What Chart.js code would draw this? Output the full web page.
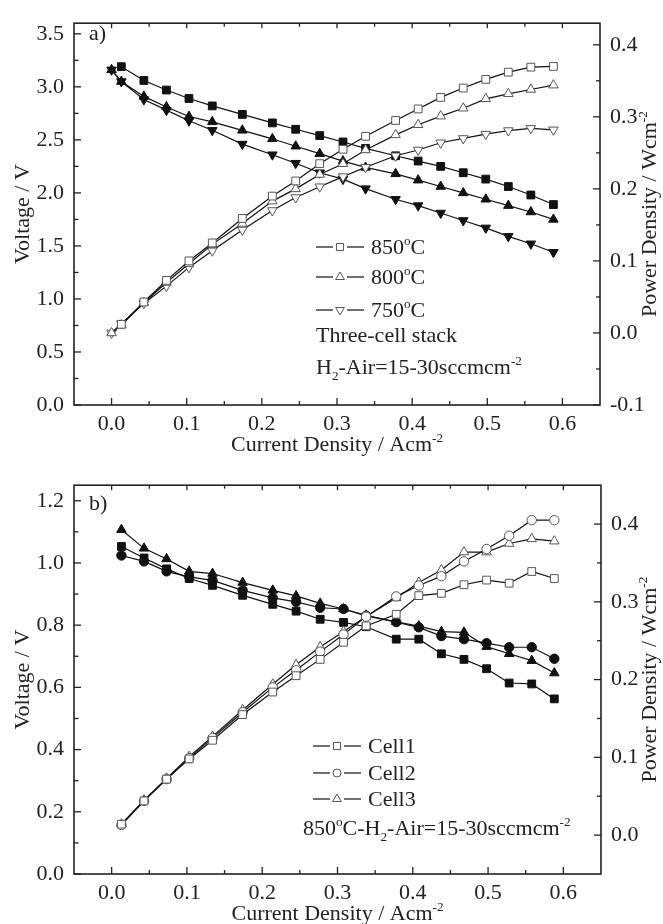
<!DOCTYPE html>
<html>
<head>
<meta charset="utf-8">
<script src="https://cdn.jsdelivr.net/npm/chart.js@4.4.1/dist/chart.umd.min.js"></script>
<style>
  html, body { margin: 0; padding: 0; background: #fff; }
  canvas { display: block; }
</style>
</head>
<body>
<canvas id="chartA" width="663" height="462"></canvas>
<canvas id="chartB" width="663" height="462"></canvas>
<script>
// ---- panel a) three-cell stack ----
const xA = [0, 0.013, 0.043, 0.073, 0.103, 0.134, 0.174, 0.214, 0.245, 0.277, 0.308, 0.338, 0.378, 0.408, 0.438, 0.468, 0.498, 0.528, 0.558, 0.588];
const v850 = [null, 3.19, 3.06, 2.97, 2.89, 2.82, 2.74, 2.66, 2.60, 2.54, 2.48, 2.42, 2.35, 2.30, 2.25, 2.19, 2.13, 2.06, 1.98, 1.89];
const v800 = [3.16, 3.05, 2.91, 2.81, 2.72, 2.67, 2.59, 2.51, 2.44, 2.37, 2.30, 2.24, 2.18, 2.12, 2.06, 2.00, 1.94, 1.88, 1.82, 1.75];
const v750 = [3.16, 3.05, 2.88, 2.78, 2.68, 2.59, 2.46, 2.36, 2.28, 2.19, 2.13, 2.04, 1.94, 1.88, 1.81, 1.74, 1.67, 1.59, 1.52, 1.44];
const p850 = [null, 0.012, 0.043, 0.073, 0.100, 0.125, 0.159, 0.190, 0.211, 0.235, 0.255, 0.273, 0.295, 0.311, 0.327, 0.340, 0.352, 0.362, 0.369, 0.370];
const p800 = [0.0, 0.011, 0.042, 0.070, 0.096, 0.123, 0.152, 0.183, 0.200, 0.220, 0.235, 0.254, 0.275, 0.289, 0.301, 0.312, 0.325, 0.332, 0.338, 0.344];
const p750 = [0.0, 0.013, 0.041, 0.065, 0.091, 0.114, 0.143, 0.170, 0.188, 0.203, 0.217, 0.230, 0.246, 0.254, 0.264, 0.270, 0.276, 0.281, 0.284, 0.282];

// ---- panel b) single cells at 850 C ----
const xB = [0.013, 0.043, 0.073, 0.103, 0.134, 0.174, 0.214, 0.245, 0.277, 0.308, 0.338, 0.378, 0.408, 0.438, 0.468, 0.498, 0.528, 0.558, 0.588];
const vCell1 = [1.053, 1.016, 0.981, 0.950, 0.928, 0.896, 0.867, 0.845, 0.819, 0.809, 0.795, 0.755, 0.755, 0.708, 0.690, 0.660, 0.614, 0.611, 0.563];
const vCell2 = [1.024, 1.005, 0.973, 0.955, 0.944, 0.912, 0.888, 0.875, 0.856, 0.852, 0.830, 0.810, 0.793, 0.765, 0.755, 0.742, 0.729, 0.729, 0.692];
const vCell3 = [1.107, 1.047, 1.013, 0.973, 0.966, 0.937, 0.912, 0.894, 0.870, 0.852, 0.832, 0.811, 0.797, 0.779, 0.777, 0.731, 0.708, 0.686, 0.646];
const pCell1 = [0.014, 0.044, 0.072, 0.098, 0.122, 0.155, 0.184, 0.205, 0.226, 0.248, 0.269, 0.284, 0.308, 0.311, 0.322, 0.328, 0.324, 0.339, 0.330];
const pCell2 = [0.013, 0.044, 0.072, 0.099, 0.125, 0.158, 0.190, 0.212, 0.236, 0.258, 0.281, 0.307, 0.321, 0.333, 0.352, 0.368, 0.385, 0.405, 0.405];
const pCell3 = [0.014, 0.045, 0.073, 0.101, 0.127, 0.161, 0.194, 0.219, 0.242, 0.262, 0.281, 0.305, 0.325, 0.341, 0.364, 0.364, 0.375, 0.381, 0.378];

// tick labels
const xTicks = [0, 0.1, 0.2, 0.3, 0.4, 0.5, 0.6];
const vTicksA = [0, 0.5, 1.0, 1.5, 2.0, 2.5, 3.0, 3.5];
const pTicksA = [-0.1, 0, 0.1, 0.2, 0.3, 0.4];
const vTicksB = [0, 0.2, 0.4, 0.6, 0.8, 1.0, 1.2];
const pTicksB = [0, 0.1, 0.2, 0.3, 0.4];

const FONT = '"Liberation Serif", "Times New Roman", serif';
const INK = '#222';

function pts(xs, ys) {
  return xs.map((x, i) => ({ x: x, y: ys[i] })).filter(p => p.y !== null);
}

function minors(ticks, min, max) {
  const step = ticks[1] - ticks[0], out = [];
  for (let v = ticks[0] - step / 2; v < max; v += step) {
    if (v > min + 1e-9 && v < max - 1e-9) out.push(v);
  }
  return out;
}

// text with ^sup and _sub parts
function rich(ctx, parts, x, y, size, align) {
  const segs = parts.map(p => {
    let mode = 0, t = p;
    if (p[0] === '^') { mode = 1; t = p.slice(1); }
    else if (p[0] === '_') { mode = -1; t = p.slice(1); }
    const s = mode ? size * 0.6 : size;
    ctx.font = s + 'px ' + FONT;
    return { t: t, mode: mode, s: s, w: ctx.measureText(t).width };
  });
  const total = segs.reduce((a, s) => a + s.w, 0);
  let cx = align === 'center' ? x - total / 2 : x;
  const base = y + size * 0.33;
  ctx.textAlign = 'left';
  ctx.textBaseline = 'alphabetic';
  segs.forEach(s => {
    ctx.font = s.s + 'px ' + FONT;
    const dy = s.mode === 1 ? -size * 0.42 : (s.mode === -1 ? size * 0.28 : 0);
    ctx.fillText(s.t, cx, base + dy);
    cx += s.w;
  });
}

function series(xs, ys, axis, style, filled, rot) {
  const r = style === 'circle' ? 4.7 : 5.5;
  return {
    data: pts(xs, ys),
    yAxisID: axis,
    showLine: true,
    tension: 0,
    borderColor: '#111',
    borderWidth: 1.2,
    pointStyle: style,
    rotation: rot || 0,
    pointRadius: r,
    pointHoverRadius: r,
    pointBackgroundColor: filled ? '#111' : '#fff',
    pointBorderColor: filled ? '#111' : '#555',
    pointBorderWidth: 1
  };
}

function decor(spec) {
  return {
    id: 'decor',
    afterDraw(chart) {
      const ctx = chart.ctx, a = chart.chartArea;
      const X = chart.scales.x, Y = chart.scales.y, Y1 = chart.scales.y1;
      ctx.save();
      ctx.strokeStyle = INK;
      ctx.lineWidth = 1.6;
      ctx.strokeRect(a.left, a.top, a.right - a.left, a.bottom - a.top);
      ctx.lineWidth = 1.3;
      const seg = (x1, y1, x2, y2) => { ctx.beginPath(); ctx.moveTo(x1, y1); ctx.lineTo(x2, y2); ctx.stroke(); };
      xTicks.forEach(v => { const p = X.getPixelForValue(v); seg(p, a.bottom, p, a.bottom - 7); seg(p, a.top, p, a.top + 5); });
      minors(xTicks, X.min, X.max).forEach(v => { const p = X.getPixelForValue(v); seg(p, a.bottom, p, a.bottom - 4); seg(p, a.top, p, a.top + 3.5); });
      spec.vTicks.forEach(v => { const p = Y.getPixelForValue(v); seg(a.left, p, a.left + 7, p); });
      minors(spec.vTicks, Y.min, Y.max).forEach(v => { const p = Y.getPixelForValue(v); seg(a.left, p, a.left + 4.5, p); });
      spec.pTicks.forEach(v => { const p = Y1.getPixelForValue(v); seg(a.right, p, a.right - 7, p); });
      minors(spec.pTicks, Y1.min, Y1.max).forEach(v => { const p = Y1.getPixelForValue(v); seg(a.right, p, a.right - 4, p); });

      ctx.fillStyle = INK;
      const midY = (a.top + a.bottom) / 2;
      // axis titles
      rich(ctx, ['Current Density / Acm', '^-2'], (a.left + a.right) / 2, spec.xTitleY, 22, 'center');
      ctx.save();
      ctx.translate(22, midY);
      ctx.rotate(-Math.PI / 2);
      rich(ctx, ['Voltage / V'], 0, 0, 22, 'center');
      ctx.restore();
      ctx.save();
      ctx.translate(649, midY);
      ctx.rotate(-Math.PI / 2);
      rich(ctx, ['Power Density / Wcm', '^-2'], 0, 0, 22, 'center');
      ctx.restore();

      // panel label
      rich(ctx, [spec.panel], 89, spec.panelY, 22, 'left');

      // legend rows
      spec.legend.forEach(row => {
        ctx.strokeStyle = '#111';
        ctx.lineWidth = 1.2;
        seg(spec.lx, row.y, spec.lx + 17, row.y);
        seg(spec.lx + 31, row.y, spec.lx + 48, row.y);
        ctx.fillStyle = '#fff';
        ctx.strokeStyle = '#555';
        ctx.lineWidth = 1;
        Chart.helpers.drawPoint(ctx, { pointStyle: row.style, radius: row.style === 'circle' ? 4 : 5, rotation: row.rot || 0, borderWidth: 1 }, spec.lx + 24, row.y);
        ctx.fillStyle = INK;
        rich(ctx, row.text, spec.lx + 55, row.y, 22, 'left');
      });
      spec.notes.forEach(n => rich(ctx, n.text, n.x, n.y, 22, 'left'));
      ctx.restore();
    }
  };
}

function axes(vMin, vMax, pMin, pMax, vTicks, pTicks, rightW, bottomH) {
  const tickFont = { family: FONT, size: 22 };
  const fmt = v => Number(v).toFixed(1);
  return {
    x: {
      type: 'linear', min: -0.05, max: 0.65,
      afterBuildTicks: s => { s.ticks = xTicks.map(v => ({ value: v })); },
      afterFit: s => { s.height = bottomH; },
      grid: { display: false, drawTicks: false }, border: { display: false },
      ticks: { font: tickFont, color: INK, padding: 6, callback: fmt, maxRotation: 0, autoSkip: false }
    },
    y: {
      type: 'linear', position: 'left', min: vMin, max: vMax,
      afterBuildTicks: s => { s.ticks = vTicks.map(v => ({ value: v })); },
      afterFit: s => { s.width = 74; },
      grid: { display: false, drawTicks: false }, border: { display: false },
      ticks: { font: tickFont, color: INK, padding: 10, callback: fmt, autoSkip: false }
    },
    y1: {
      type: 'linear', position: 'right', min: pMin, max: pMax,
      afterBuildTicks: s => { s.ticks = pTicks.map(v => ({ value: v })); },
      afterFit: s => { s.width = rightW; },
      grid: { display: false, drawTicks: false }, border: { display: false },
      ticks: { font: tickFont, color: INK, padding: 10, callback: fmt, autoSkip: false }
    }
  };
}

const baseOptions = {
  responsive: false,
  animation: false,
  devicePixelRatio: 1,
  plugins: { legend: { display: false }, tooltip: { enabled: false } },
  events: []
};

new Chart(document.getElementById('chartA'), {
  type: 'scatter',
  data: {
    datasets: [
      series(xA, p850, 'y1', 'rect', false),
      series(xA, p800, 'y1', 'triangle', false),
      series(xA, p750, 'y1', 'triangle', false, 180),
      series(xA, v850, 'y', 'rect', true),
      series(xA, v800, 'y', 'triangle', true),
      series(xA, v750, 'y', 'triangle', true, 180)
    ]
  },
  options: Object.assign({}, baseOptions, {
    layout: { padding: { top: 13, left: 0, right: 0, bottom: 0 } },
    scales: axes(0, 3.6, -0.1, 0.43, vTicksA, pTicksA, 63, 57)
  }),
  plugins: [decor({
    vTicks: vTicksA, pTicks: pTicksA, panel: 'a)', panelY: 33, xTitleY: 444,
    lx: 316,
    legend: [
      { y: 247, style: 'rect', text: ['850', '^o', 'C'] },
      { y: 277, style: 'triangle', text: ['800', '^o', 'C'] },
      { y: 310, style: 'triangle', rot: 180, text: ['750', '^o', 'C'] }
    ],
    notes: [
      { x: 316, y: 335, text: ['Three-cell stack'] },
      { x: 316, y: 367, text: ['H', '_2', '-Air=15-30sccmcm', '^-2'] }
    ]
  })]
});

new Chart(document.getElementById('chartB'), {
  type: 'scatter',
  data: {
    datasets: [
      series(xB, pCell1, 'y1', 'rect', false),
      series(xB, pCell2, 'y1', 'circle', false),
      series(xB, pCell3, 'y1', 'triangle', false),
      series(xB, vCell1, 'y', 'rect', true),
      series(xB, vCell2, 'y', 'circle', true),
      series(xB, vCell3, 'y', 'triangle', true)
    ]
  },
  options: Object.assign({}, baseOptions, {
    layout: { padding: { top: 20, left: 0, right: 0, bottom: 0 } },
    scales: axes(0, 1.25, -0.05, 0.45, vTicksB, pTicksB, 62, 50)
  }),
  plugins: [decor({
    vTicks: vTicksB, pTicks: pTicksB, panel: 'b)', panelY: 41, xTitleY: 451,
    lx: 313,
    legend: [
      { y: 284, style: 'rect', text: ['Cell1'] },
      { y: 311, style: 'circle', text: ['Cell2'] },
      { y: 337, style: 'triangle', text: ['Cell3'] }
    ],
    notes: [
      { x: 303, y: 366, text: ['850', '^o', 'C-H', '_2', '-Air=15-30sccmcm', '^-2'] }
    ]
  })]
});
</script>
</body>
</html>
